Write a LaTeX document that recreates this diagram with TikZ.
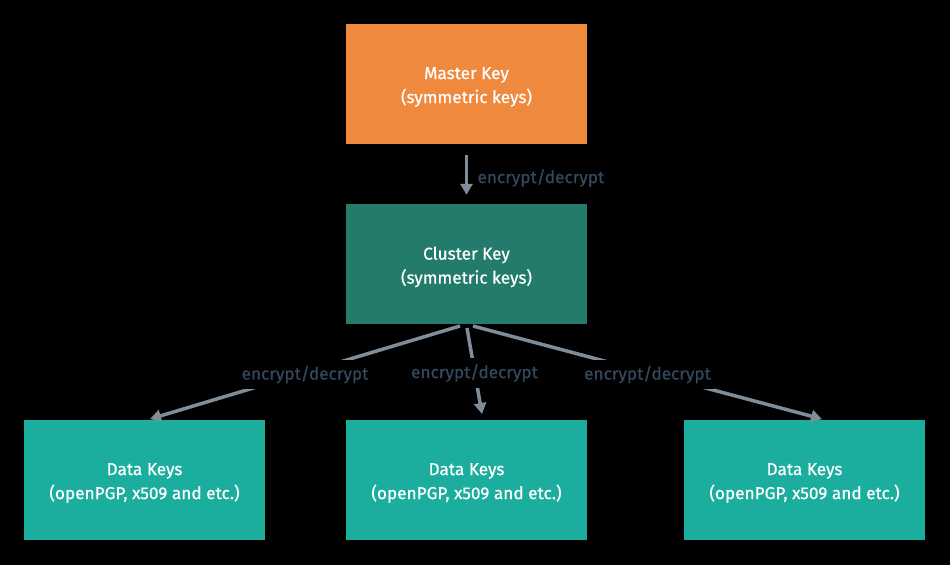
\documentclass[tikz,border=0pt]{standalone}
\usepackage{fontspec}
\setmainfont{Fira Sans}
\newfontfamily\medfont{Fira Sans}[FakeBold=0.6]
\usetikzlibrary{arrows.meta}
\definecolor{bg}{HTML}{000000}
\definecolor{masterc}{HTML}{EE893D}
\definecolor{clusterc}{HTML}{237B6B}
\definecolor{datac}{HTML}{1BAE9E}
\definecolor{arrowc}{HTML}{7F8D9B}
\definecolor{labelc}{HTML}{34495E}
\begin{document}
\begin{tikzpicture}[x=1pt,y=-1pt,
  keybox/.style={minimum width=241pt,minimum height=120pt,inner sep=0pt},
  keytext/.style={text=white,align=center,inner sep=0pt,yshift=-3pt,
    font=\medfont\fontsize{17.2}{24}\selectfont},
  conn/.style={draw=arrowc,line width=3.5pt,-{Triangle[length=11pt,width=12pt]}},
  lbl/.style={fill=bg,text=labelc,font=\medfont\fontsize{17.2}{19}\selectfont,inner xsep=3pt,inner ysep=6pt,yshift=-2pt}]
\fill[bg] (0,0) rectangle (950,565);
\useasboundingbox (0,0) rectangle (950,565);
\node[keybox,fill=masterc,label={[keytext]center:Master Key\\(symmetric keys)}] (master) at (466.5,84) {};
\node[keybox,fill=clusterc,label={[keytext]center:Cluster Key\\(symmetric keys)}] (cluster) at (466.5,264) {};
\node[keybox,fill=datac,label={[keytext]center:Data Keys\\(openPGP, x509 and etc.)}] (d1) at (144.5,480) {};
\node[keybox,fill=datac,label={[keytext]center:Data Keys\\(openPGP, x509 and etc.)}] (d2) at (466.5,480) {};
\node[keybox,fill=datac,label={[keytext]center:Data Keys\\(openPGP, x509 and etc.)}] (d3) at (804.5,480) {};
\coordinate (m1) at ([yshift=-11pt]master.south);
\coordinate (m2) at ([yshift=9pt]cluster.north);
\draw[conn] (m1) -- (m2);
\node[text=labelc,font=\medfont\fontsize{17.2}{19}\selectfont,anchor=west] (l0) at (474,178) {encrypt/decrypt};
\coordinate (c1) at (460,326);
\coordinate (c2) at (467,328);
\coordinate (c3) at (473,326);
\coordinate (e1) at (150,419);
\coordinate (e2) at (482,414);
\coordinate (e3) at (822,419);
\draw[conn] (c1) -- (e1) node[lbl,pos=0.5] (l1) {encrypt/decrypt};
\draw[conn] (c2) -- (e2) node[lbl,pos=0.5] (l2) {encrypt/decrypt};
\draw[conn] (c3) -- (e3) node[lbl,pos=0.5] (l3) {encrypt/decrypt};
\end{tikzpicture}
\end{document}
